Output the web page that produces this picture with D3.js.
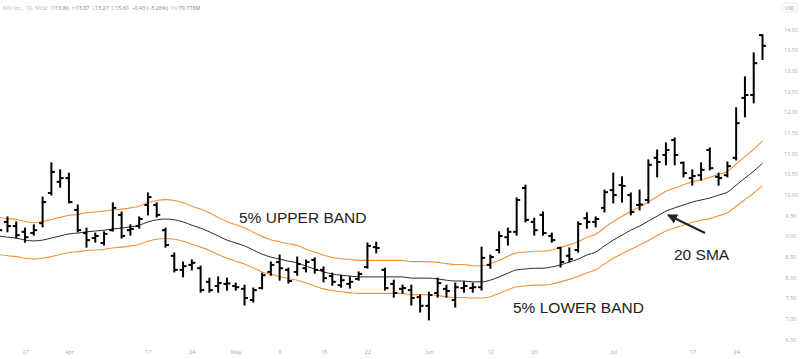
<!DOCTYPE html>
<html><head><meta charset="utf-8">
<script src="https://cdn.jsdelivr.net/npm/d3@7"></script>
<style>
html,body{margin:0;padding:0;background:#fff;}
svg{display:block;font-family:"Liberation Sans",Arial,sans-serif;}
</style></head>
<body><svg id="c" width="800" height="359"></svg>
<script>
const dates = ["03-22","03-23","03-24","03-27","03-28","03-29","03-30","03-31",
"04-03","04-04","04-05","04-06","04-10","04-11","04-12","04-13","04-14","04-17","04-18","04-19","04-20","04-21","04-24","04-25","04-26","04-27","04-28",
"05-01","05-02","05-03","05-04","05-05","05-08","05-09","05-10","05-11","05-12","05-15","05-16","05-17","05-18","05-19","05-22","05-23","05-24","05-25","05-26","05-30","05-31",
"06-01","06-02","06-05","06-06","06-07","06-08","06-09","06-12","06-13","06-14","06-15","06-16","06-20","06-21","06-22","06-23","06-26","06-27","06-28","06-29","06-30",
"07-03","07-05","07-06","07-07","07-10","07-11","07-12","07-13","07-14","07-17","07-18","07-19","07-20","07-21","07-24","07-25","07-26","07-27"];

const open = [9.43,9.34,9.24,9.10,9.07, 9.31,10.04,10.31,10.40,9.63, 9.07,8.95,8.83,9.14,9.51, 9.14,9.24,9.75,9.75,9.14,
 8.52,8.18,8.30,8.22,7.89, 7.79,7.84,7.79,7.72,7.45, 7.74,8.13,8.37,8.18,8.13, 8.22,8.42,8.18,8.03,7.81,
 7.84,7.96,8.25,8.73,8.18, 7.84,7.72,7.69,7.52,7.31, 7.62,7.72,7.45,7.74,7.74, 7.76,8.30,8.66,8.97,9.10,
 10.16,9.34,9.51,9.00,8.71, 8.52,8.66,9.43,9.34,9.68, 10.11,10.23,9.99,9.75,9.87, 10.89,10.96,11.32,10.77,10.40,
 10.47,11.08,10.43,10.47,10.89, 12.34,12.41,13.86];
const high = [9.56,9.46,9.34,9.19,9.27, 9.94,10.77,10.60,10.52,9.75, 9.19,9.07,9.10,9.80,9.58, 9.27,9.46,10.04,9.80,9.19,
 8.59,8.37,8.42,8.27,7.98, 8.01,7.98,7.86,7.81,7.74, 8.10,8.37,8.54,8.22,8.49, 8.42,8.47,8.25,8.10,8.05,
 8.01,8.13,8.83,8.85,8.22, 7.93,7.81,7.81,7.57,7.64, 7.98,7.81,7.86,7.89,7.86, 8.73,8.54,9.10,9.19,9.92,
 10.23,9.43,9.58,9.07,8.73, 8.71,9.34,9.56,9.46,10.11, 10.52,10.43,10.04,10.11,10.84, 11.08,11.25,11.37,10.79,10.60,
 10.77,11.13,10.52,10.79,12.10, 12.85,13.43,13.87];
const low = [9.07,9.10,8.95,8.85,9.02, 9.22,9.99,10.18,9.80,9.10, 8.73,8.85,8.78,9.12,8.95, 9.02,9.19,9.51,9.46,8.73,
 8.13,8.01,8.18,7.64,7.64, 7.64,7.69,7.69,7.33,7.40, 7.72,8.05,7.93,7.86,8.05, 8.13,8.10,7.89,7.81,7.76,
 7.74,7.93,8.22,8.59,7.69, 7.52,7.62,7.33,7.16,6.97, 7.52,7.52,7.28,7.64,7.64, 7.69,8.22,8.59,8.78,9.02,
 9.34,9.02,9.02,8.85,8.25, 8.37,8.61,9.19,9.22,9.58, 9.80,9.82,9.51,9.63,9.80, 10.43,10.72,10.72,10.43,10.23,
 10.35,10.60,10.23,10.43,10.84, 11.88,12.22,13.27];
const close = [9.14,9.24,9.02,8.97,9.14, 9.82,10.55,10.40,9.82,9.14, 8.90,9.00,9.05,9.68,9.00, 9.17,9.41,9.94,9.51,8.78,
 8.18,8.27,8.35,7.69,7.69, 7.86,7.85,7.76,7.50,7.69, 8.05,8.30,8.22,7.91,8.32, 8.37,8.18,7.98,7.89,7.93,
 7.89,8.08,8.76,8.71,7.74, 7.62,7.74,7.50,7.31,7.57, 7.86,7.67,7.76,7.79,7.76, 8.47,8.49,9.00,9.10,9.87,
 9.39,9.14,9.07,8.90,8.37, 8.44,9.29,9.34,9.41,10.06, 9.99,10.21,9.58,9.76,10.72, 10.79,11.08,10.96,10.52,10.45,
 10.60,10.64,10.40,10.69,11.73, 12.41,13.18,13.60];

const sma20 = [9.00,8.97,8.95,8.90,8.88, 8.90,8.95,9.00,9.05,9.07, 9.10,9.12,9.14,9.17,9.19, 9.22,9.26,9.34,9.39,9.41,
 9.39,9.34,9.26,9.19,9.10, 9.00,8.90,8.83,8.76,8.66, 8.56,8.49,8.44,8.39,8.35, 8.27,8.20,8.13,8.08,8.05,
 8.03,8.01,8.01,8.01,8.01, 8.01,8.01,7.98,7.98,7.98, 7.96,7.93,7.91,7.91,7.89, 7.89,7.93,8.01,8.10,8.18,
 8.20,8.22,8.22,8.25,8.30, 8.37,8.44,8.54,8.61,8.76, 8.90,9.02,9.14,9.24,9.36, 9.48,9.60,9.68,9.75,9.82,
 9.87,9.92,9.99,10.06,10.23, 10.40,10.57,10.76];
const upperBand = [9.45,9.42,9.40,9.35,9.32, 9.35,9.40,9.45,9.50,9.52, 9.56,9.58,9.60,9.63,9.65, 9.68,9.72,9.81,9.86,9.88,
 9.86,9.81,9.72,9.65,9.56, 9.45,9.35,9.27,9.20,9.09, 8.99,8.91,8.86,8.81,8.77, 8.68,8.61,8.54,8.48,8.45,
 8.43,8.41,8.41,8.41,8.41, 8.41,8.41,8.38,8.38,8.38, 8.36,8.33,8.31,8.31,8.28, 8.28,8.33,8.41,8.51,8.59,
 8.61,8.63,8.63,8.66,8.72, 8.79,8.86,8.97,9.04,9.20, 9.35,9.47,9.60,9.70,9.83, 9.95,10.08,10.16,10.24,10.31,
 10.36,10.42,10.49,10.56,10.74, 10.92,11.10,11.30];
const lowerBand = [8.55,8.52,8.50,8.46,8.44, 8.46,8.50,8.55,8.60,8.62, 8.65,8.66,8.68,8.71,8.73, 8.76,8.80,8.87,8.92,8.94,
 8.92,8.87,8.80,8.73,8.65, 8.55,8.46,8.39,8.32,8.23, 8.13,8.07,8.02,7.97,7.93, 7.86,7.79,7.72,7.68,7.65,
 7.63,7.61,7.61,7.61,7.61, 7.61,7.61,7.58,7.58,7.58, 7.56,7.53,7.51,7.51,7.50, 7.50,7.53,7.61,7.70,7.77,
 7.79,7.81,7.81,7.84,7.89, 7.95,8.02,8.11,8.18,8.32, 8.46,8.57,8.68,8.78,8.89, 9.01,9.12,9.20,9.26,9.33,
 9.38,9.42,9.49,9.56,9.72, 9.88,10.04,10.22];

const priceTicks = [6.5,7,7.5,8,8.5,9,9.5,10,10.5,11,11.5,12,12.5,13,13.5,14];
const tickDates = ["03-27","04-03","04-17","04-24","05-01","05-08","05-15","05-22","06-01","06-12","06-20","07-03","07-17","07-24"];
const tickLabels = ["27","Apr","17","24","May","8","15","22","Jun","12","20","Jul","17","24"];

const svg = d3.select("#c");
const x = d3.scalePoint().domain(dates).range([-1.3, 762.5]);
const y = d3.scaleLinear().domain([6.5, 14]).range([339.3, 29.3]);

// header
const hdr = svg.append("text").attr("x", 2.5).attr("y", 9.6).attr("font-size", 5.4)
  .attr("font-family", "'Open Sans', sans-serif").attr("style", "white-space:pre");
const parts = [["NIO Inc., 1D, NYSE  ", "#b8b8b8"], ["O", "#b8b8b8"], ["13.86  ", "#808080"], ["H", "#b8b8b8"], ["13.87  ", "#808080"],
  ["L", "#b8b8b8"], ["13.27  ", "#808080"], ["C", "#b8b8b8"], ["13.60  ", "#808080"], ["\u22120.43 (\u22123.26%)  ", "#808080"], ["Vol", "#b8b8b8"], ["79.778M", "#808080"]];
parts.forEach(p => hdr.append("tspan").attr("fill", p[1]).text(p[0]));

// USD box
svg.append("rect").attr("x", 782).attr("y", 3).attr("width", 15).attr("height", 9).attr("rx", 2)
  .attr("fill", "#fff").attr("stroke", "#e3e3e3").attr("stroke-width", 0.8);
svg.append("text").attr("x", 789.5).attr("y", 9.5).attr("text-anchor", "middle").attr("font-size", 5)
  .attr("fill", "#999").attr("font-family", "'Open Sans', sans-serif").text("USD");

// right axis
const yAxis = d3.axisRight(y).tickValues(priceTicks).tickFormat(d3.format(".2f")).tickSize(0).tickPadding(0);
const ya = svg.append("g").attr("transform", "translate(791,0)").call(yAxis);
ya.select(".domain").remove();
ya.selectAll("text").attr("font-size", 5.5).attr("fill", "#aaa").attr("text-anchor", "middle")
  .attr("font-family", "'Open Sans', sans-serif");

// bottom axis
const xAxis = d3.axisBottom(x).tickValues(tickDates).tickFormat((d, i) => tickLabels[i]).tickSize(0).tickPadding(0);
const xa = svg.append("g").attr("transform", "translate(0,350.5)").call(xAxis);
xa.select(".domain").remove();
xa.selectAll("text").attr("font-size", 5.5).attr("fill", "#aaa").attr("font-family", "'Open Sans', sans-serif");

// plot
const plot = svg.append("g");
const line = d3.line().x((d, i) => x(dates[i])).y(d => y(d)).curve(d3.curveMonotoneX);
plot.append("path").attr("d", line(upperBand)).attr("fill", "none").attr("stroke", "#f7923a").attr("stroke-width", 1.1);
plot.append("path").attr("d", line(lowerBand)).attr("fill", "none").attr("stroke", "#f7923a").attr("stroke-width", 1.1);
plot.append("path").attr("d", line(sma20)).attr("fill", "none").attr("stroke", "#2b2b2b").attr("stroke-width", 1);

const bars = dates.map((d, i) => ({d, o: open[i], h: high[i], l: low[i], c: close[i]}));
const bg = plot.append("g").attr("stroke", "#000").attr("stroke-width", 2).attr("fill", "none");
bg.selectAll("line.v").data(bars).join("line").attr("class", "v")
  .attr("x1", b => x(b.d)).attr("x2", b => x(b.d)).attr("y1", b => y(b.h) - 0.5).attr("y2", b => y(b.l) + 0.5);
bg.selectAll("line.o").data(bars).join("line").attr("class", "o")
  .attr("x1", b => x(b.d) - 3.5).attr("x2", b => x(b.d)).attr("y1", b => y(b.o)).attr("y2", b => y(b.o));
bg.selectAll("line.c").data(bars).join("line").attr("class", "c")
  .attr("x1", b => x(b.d)).attr("x2", b => x(b.d) + 3.5).attr("y1", b => y(b.c)).attr("y2", b => y(b.c));

// annotations
const ann = svg.append("g").attr("fill", "#222").attr("font-size", 15.5).attr("font-family", "'Liberation Sans', Arial, sans-serif");
ann.append("text").attr("x", 239).attr("y", 223).text("5% UPPER BAND");
ann.append("text").attr("x", 513).attr("y", 313).text("5% LOWER BAND");
ann.append("text").attr("x", 674).attr("y", 260).text("20 SMA");

svg.append("defs").append("marker").attr("id", "ah").attr("viewBox", "0 0 10 10").attr("refX", 9).attr("refY", 5)
  .attr("markerWidth", 5).attr("markerHeight", 5).attr("orient", "auto")
  .append("path").attr("d", "M0,0L10,5L0,10z").attr("fill", "#222");
svg.append("line").attr("x1", 705).attr("y1", 233).attr("x2", 668).attr("y2", 215)
  .attr("stroke", "#222").attr("stroke-width", 2).attr("marker-end", "url(#ah)");
</script></body></html>
